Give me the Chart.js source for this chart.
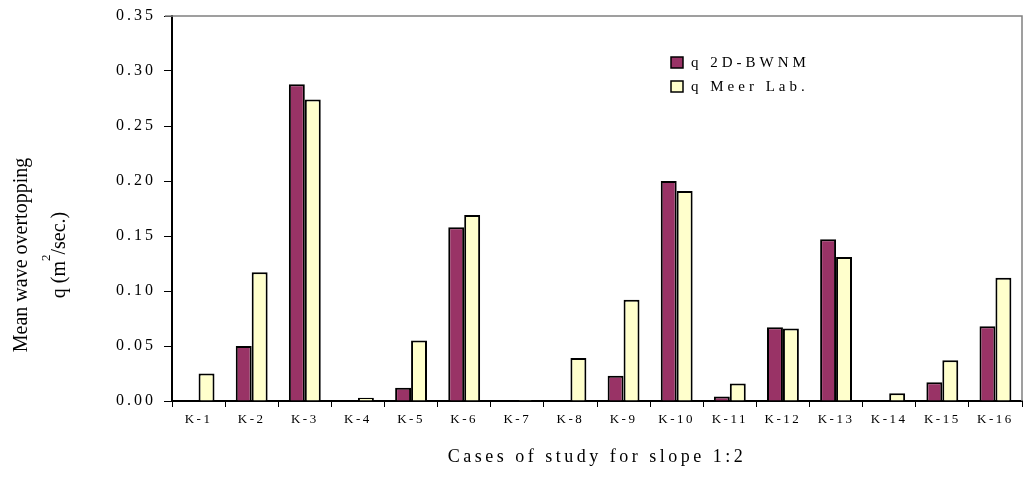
<!DOCTYPE html>
<html>
<head>
<meta charset="utf-8">
<script src="https://cdn.jsdelivr.net/npm/chart.js@4/dist/chart.umd.min.js"></script>
<style>
  html, body { margin: 0; padding: 0; background: #ffffff; }
  #wrap { width: 1024px; height: 493px; }
</style>
</head>
<body>
<div id="wrap"><canvas id="chart" width="1024" height="493"></canvas></div>
<script>
// Cases and mean overtopping discharge q (m^2/sec.)
const cases = ['K-1', 'K-2', 'K-3', 'K-4', 'K-5', 'K-6', 'K-7', 'K-8',
               'K-9', 'K-10', 'K-11', 'K-12', 'K-13', 'K-14', 'K-15', 'K-16'];
const qModel = [0, 0.050, 0.288, 0, 0.012, 0.158, 0, 0.0005,
                0.023, 0.200, 0.004, 0.067, 0.147, 0, 0.017, 0.068];
const qLab   = [0.025, 0.117, 0.274, 0.003, 0.055, 0.169, 0.001, 0.039,
                0.092, 0.191, 0.016, 0.066, 0.131, 0.007, 0.037, 0.112];
const seriesNames = ['q 2D-BWNM', 'q Meer Lab.'];
const yTickLabels = ['0.00', '0.05', '0.10', '0.15', '0.20', '0.25', '0.30', '0.35'];
const xTitle = 'Cases of study for slope 1:2';
const yTitleLine1 = 'Mean wave overtopping';
const yTitleLine2 = ['q (m', '2', '/sec.)'];   // base, superscript, rest

const FONT = '"Liberation Serif", "Times New Roman", serif';
const spacing = { xTicks: '2.5px', xTitle: '3.5px', yTicks: '3px', legend: '4px' };

function withSpacing(ctx, value, fn) {
  ctx.letterSpacing = value;
  fn();
  ctx.letterSpacing = '0px';
}

// Category / linear scales whose labels are drawn with wider letter spacing
class SpacedCategoryScale extends Chart.CategoryScale {
  static id = 'spacedCategory';
  static defaults = Chart.CategoryScale.defaults;
  drawLabels(area) { withSpacing(this.ctx, spacing.xTicks, () => super.drawLabels(area)); }
  drawTitle() { withSpacing(this.ctx, spacing.xTitle, () => super.drawTitle()); }
}
class SpacedLinearScale extends Chart.LinearScale {
  static id = 'spacedLinear';
  static defaults = Chart.LinearScale.defaults;
  drawLabels(area) { withSpacing(this.ctx, spacing.yTicks, () => super.drawLabels(area)); }
}
Chart.register(SpacedCategoryScale, SpacedLinearScale);

// Plot frame, legend box and the two-line vertical axis title
const decorations = {
  id: 'decorations',
  afterDraw(chart) {
    const { ctx, chartArea: a } = chart;
    ctx.save();
    ctx.strokeStyle = '#808080';
    ctx.lineWidth = 1.5;
    ctx.beginPath();
    ctx.moveTo(a.left - 7, a.top);
    ctx.lineTo(a.right, a.top);
    ctx.lineTo(a.right, a.bottom);
    ctx.stroke();

    // legend
    ctx.font = '15px ' + FONT;
    ctx.textBaseline = 'middle';
    ctx.textAlign = 'left';
    chart.data.datasets.forEach((ds, i) => {
      const bx = 671, by = 57 + i * 24;
      ctx.fillStyle = ds.backgroundColor;
      ctx.fillRect(bx, by, 12, 11);
      ctx.strokeStyle = '#000';
      ctx.lineWidth = 1.5;
      ctx.strokeRect(bx, by, 12, 11);
      ctx.fillStyle = '#000';
      withSpacing(ctx, spacing.legend, () => ctx.fillText(ds.label, bx + 20, by + 6));
    });

    // vertical axis title
    ctx.fillStyle = '#000';
    ctx.textBaseline = 'alphabetic';
    const cy = 255;
    ctx.save();
    ctx.translate(27, cy);
    ctx.rotate(-Math.PI / 2);
    ctx.font = '20px ' + FONT;
    ctx.textAlign = 'center';
    ctx.fillText(yTitleLine1, 0, 0);
    ctx.restore();

    ctx.save();
    ctx.translate(65, cy);
    ctx.rotate(-Math.PI / 2);
    const big = '20px ' + FONT, small = '13px ' + FONT;
    ctx.font = big;
    const w0 = ctx.measureText(yTitleLine2[0]).width;
    const w2 = ctx.measureText(yTitleLine2[2]).width;
    ctx.font = small;
    const w1 = ctx.measureText(yTitleLine2[1]).width;
    let x = -(w0 + w1 + w2) / 2;
    ctx.textAlign = 'left';
    ctx.font = big;
    ctx.fillText(yTitleLine2[0], x, 0);
    x += w0;
    ctx.font = small;
    ctx.fillText(yTitleLine2[1], x, -15);
    x += w1;
    ctx.font = big;
    ctx.fillText(yTitleLine2[2], x, 0);
    ctx.restore();

    ctx.restore();
  }
};

new Chart(document.getElementById('chart'), {
  type: 'bar',
  data: {
    labels: cases,
    datasets: [
      { label: seriesNames[0], data: qModel, backgroundColor: '#993366',
        borderColor: '#000000', borderWidth: 2 },
      { label: seriesNames[1], data: qLab, backgroundColor: '#FFFFCC',
        borderColor: '#000000', borderWidth: 2 }
    ]
  },
  options: {
    responsive: false,
    animation: false,
    devicePixelRatio: 1,
    layout: { padding: { top: 16, right: 2, left: 0, bottom: 0 } },
    datasets: { bar: { barPercentage: 1.0, categoryPercentage: 0.6 } },
    plugins: { legend: { display: false }, tooltip: { enabled: false } },
    scales: {
      x: {
        type: 'spacedCategory',
        offset: true,
        grid: { offset: true, drawOnChartArea: false, drawTicks: true, tickLength: 6,
                color: '#000000', lineWidth: 1 },
        border: { display: true, color: '#000000', width: 2 },
        ticks: { color: '#000000', font: { family: FONT, size: 13 }, padding: 5,
                 maxRotation: 0, minRotation: 0, autoSkip: false },
        title: { display: true, text: xTitle, color: '#000000',
                 font: { family: FONT, size: 18 }, padding: { top: 0, bottom: 25 } },
        afterFit(scale) { scale.height = 92; scale.paddingLeft = 0; scale.paddingRight = 0; }
      },
      y: {
        type: 'spacedLinear',
        min: 0, max: 0.35,
        grid: { drawOnChartArea: false, drawTicks: true, tickLength: 8,
                color: '#000000', lineWidth: 1 },
        border: { display: true, color: '#000000', width: 2 },
        ticks: { stepSize: 0.05, color: '#000000', font: { family: FONT, size: 16 },
                 padding: 8,
                 callback: (v) => yTickLabels[Math.round(v / 0.05)] },
        afterFit(scale) { scale.width = 172; scale.paddingTop = 0; scale.paddingBottom = 0; }
      }
    }
  },
  plugins: [decorations]
});
</script>
</body>
</html>
